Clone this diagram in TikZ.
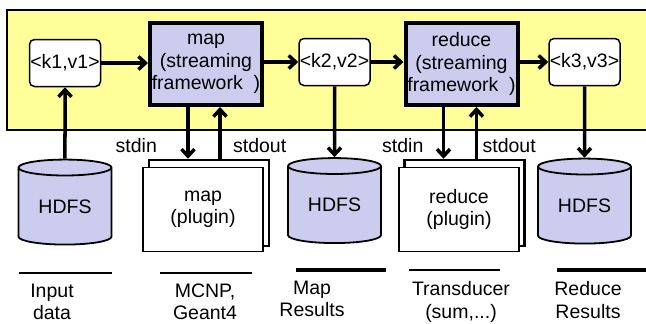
\documentclass[tikz,border=0pt]{standalone}
\usepackage{fontspec}
\setmainfont{Liberation Sans}
\usepackage{tikz}
\usetikzlibrary{shapes,arrows.meta,positioning}

\definecolor{bandyellow}{RGB}{255,255,153}
\definecolor{streamblue}{RGB}{204,204,238}

\begin{document}
\begin{tikzpicture}[x=1pt, y=-1pt, every node/.style={font=\fontsize{19.5}{22.5}\selectfont}]
		\tikzstyle{Pair}	= [rectangle, rounded corners=5pt, draw, fill=white, line width=1.5pt, minimum width=71pt, minimum height=47pt, inner sep=0pt]
		\tikzstyle{Stream}	= [rectangle, draw, fill=streamblue, line width=4pt, minimum width=112pt, minimum height=82pt, inner sep=0pt, align=center]
		\tikzstyle{Store}	= [cylinder, shape border rotate=90, draw, fill=streamblue, line width=1.8pt, aspect=0.3, minimum width=93pt, minimum height=85pt, inner sep=0pt]
		\tikzstyle{Plugin}	= [rectangle, draw, fill=white, line width=1.5pt, minimum width=120pt, minimum height=84pt, inner sep=0pt, align=center]
		\tikzstyle{Back}	= [Plugin, line width=2.5pt, minimum height=86pt]
		\tikzstyle{Flow}	= [line width=3.5pt, -{Straight Barb[length=7pt, width=13pt]}]
		\tikzstyle{Caption}	= [align=center, inner sep=0pt]
		\tikzstyle{Rule}	= [line width=2pt]
		\tikzstyle{HeavyRule}	= [line width=3.5pt]

		\useasboundingbox (0,0) rectangle (646,324);

		% streaming band
		\fill[bandyellow] (7,10) rectangle (646,130);
		\draw[line width=1.5pt] (646,10) -- (7,10) -- (7,130) -- (646,130);

		% key/value pairs and streaming boxes
		\node (k1) at (65, 63) [Pair] {<k1,v1>};
		\node (map) at (206, 64) [Stream] {map\\(streaming\\framework \ )};
		\node (k2) at (334.5, 62) [Pair] {<k2,v2>};
		\node (reduce) at (461.5, 64) [Stream] {reduce\\(streaming\\framework \ )};
		\node (k3) at (584.5, 62) [Pair] {<k3,v3>};

		% storage
		\node (in) at (65, 206.5) [Store] {HDFS};
		\node (mid) at (334.5, 205) [Store] {HDFS};
		\node (out) at (584.5, 205.5) [Store] {HDFS};

		% plugins
		\node (mapback) at (209, 203) [Back] {};
		\node (mapplug) at (203, 209.5) [Plugin] {map\\(plugin)};
		\node (redback) at (464.5, 203) [Back] {};
		\node (redplug) at (459, 209.5) [Plugin] {reduce\\(plugin)};

		% data flow
		\draw[Flow] (k1) -- (map.west |- k1);
		\draw[Flow] (map.east |- k2) -- (k2);
		\draw[Flow] (k2) -- (reduce.west |- k2);
		\draw[Flow] (reduce.east |- k3) -- (k3);
		\draw[Flow] (in.north) -- (k1.south);
		\draw[Flow] (k2.south) -- (mid.north);
		\draw[Flow] (k3.south) -- (out.north);

		\draw[Flow] ([xshift=-18pt]map.south) -- ([xshift=-18pt]map.south |- mapback.north) node [midway, left=26pt, yshift=-13pt] {stdin};
		\draw[Flow] ([xshift=14pt]map.south |- mapback.north) -- ([xshift=14pt]map.south) node [midway, right=8pt, yshift=-13pt] {stdout};
		\draw[Flow] ([xshift=-18pt]reduce.south) -- ([xshift=-18pt]reduce.south |- redback.north) node [midway, left=15pt, yshift=-13pt] {stdin};
		\draw[Flow] ([xshift=15pt]reduce.south |- redback.north) -- ([xshift=15pt]reduce.south) node [midway, right=1pt, yshift=-13pt] {stdout};

		% captions
		\draw[Rule] (19,273) -- (112,273);
		\draw[Rule] (160,273) -- (252,273);
		\draw[HeavyRule] (296,270) -- (386,270);
		\draw[Rule] (409,270) -- (500,270);
		\draw[HeavyRule] (557,270) -- (646,270);

		\node (cin) at (52, 302) [Caption] {Input\\data};
		\node (cmap) at (205, 302) [Caption] {MCNP,\\Geant4};
		\node (cmid) at (312, 299) [Caption] {Map\\Results};
		\node (cred) at (461, 302) [Caption] {Transducer\\(sum,...)};
		\node (cout) at (588, 300) [Caption] {Reduce\\Results};
	\end{tikzpicture}
\end{document}
